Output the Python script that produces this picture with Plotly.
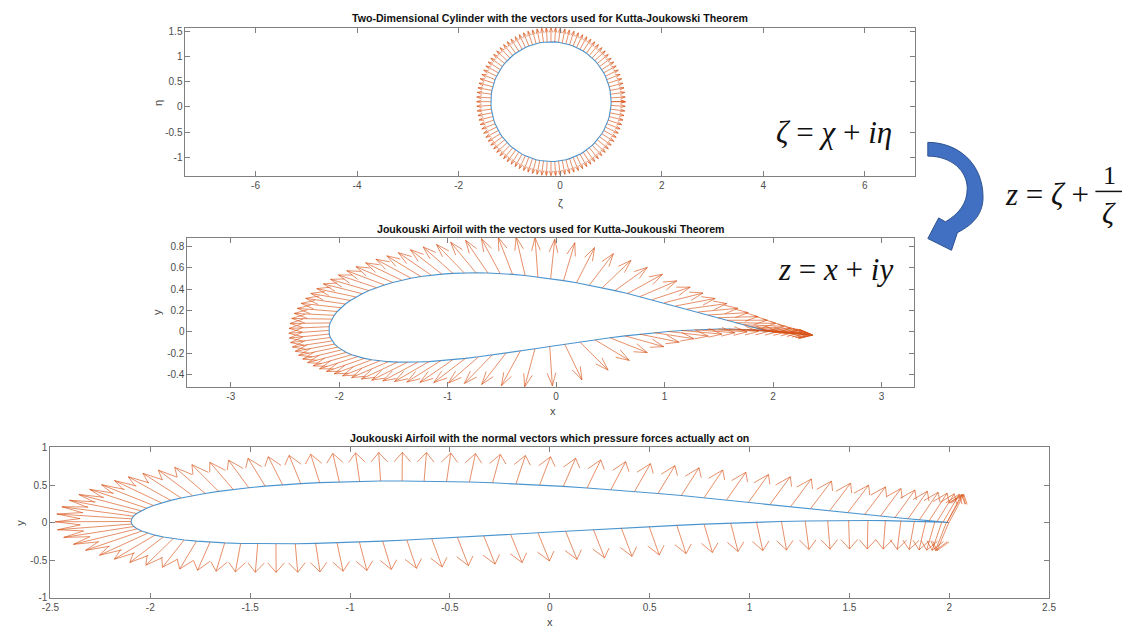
import numpy as np
import plotly.graph_objects as go

# ---------------------------------------------------------------------------
# Joukowski mapping data: cylinder in the zeta plane, airfoil in the z plane
# ---------------------------------------------------------------------------
zeta_center_x = -0.18          # cylinder centre (chi)
zeta_center_y = 0.105          # cylinder centre (eta)
n_points = 101                 # surface samples (first and last coincide)

# vector lengths as drawn (data units, after quiver scaling)
cyl_vec_len = 0.28
foil_vec_len = 0.37
normal_vec_len = 0.38

# axis ranges and ticks
cyl_xrange = [-7.38, 6.99]
cyl_yrange = [-1.36, 1.57]
cyl_xticks = [-6, -4, -2, 0, 2, 4, 6]
cyl_yticks = [-1, -0.5, 0, 0.5, 1, 1.5]

foil_xrange = [-3.4, 3.3]
foil_yrange = [-0.513, 0.885]
foil_xticks = [-3, -2, -1, 0, 1, 2, 3]
foil_yticks = [-0.4, -0.2, 0, 0.2, 0.4, 0.6, 0.8]

norm_xrange = [-2.5, 2.5]
norm_yrange = [-1, 1]
norm_xticks = [-2.5, -2, -1.5, -1, -0.5, 0, 0.5, 1, 1.5, 2, 2.5]
norm_yticks = [-1, -0.5, 0, 0.5, 1]

titles = [
    "Two-Dimensional Cylinder with the vectors used for Kutta-Joukowski Theorem",
    "Joukouski Airfoil with the vectors used for Kutta-Joukouski Theorem",
    "Joukouski Airfoil with the normal vectors which pressure forces actually act on",
]

ORANGE = "rgba(217,83,25,0.72)"
BLUE = "#4a95cf"
FONT = "Liberation Sans"
W, H = 1131, 634

# ---------------------------------------------------------------------------
# geometry
# ---------------------------------------------------------------------------
c = complex(zeta_center_x, zeta_center_y)
R = abs(1 - c)                                   # circle passes through zeta = 1
theta = np.linspace(0, 2 * np.pi, n_points)
radial = np.exp(1j * theta)                      # unit radial vectors
zeta = c + R * radial
z = zeta + 1 / zeta                              # Joukowski transform

# cylinder vectors carried into the airfoil plane through s - 1/s, normalised
tip = zeta + cyl_vec_len * radial
carried = (tip - 1 / tip) - (zeta - 1 / zeta)
carried = carried / np.abs(carried)

# outward normals of the airfoil from finite differences along the contour
dx = np.gradient(z.real)
dy = np.gradient(z.imag)
normal = (dy - 1j * dx) / np.hypot(dx, dy)


def quiver(p, vec, alpha=0.33, beta=0.33):
    """Shaft + open arrowhead segments, MATLAB quiver style."""
    xs, ys = [], []
    for (x0, y0, u, v) in zip(p.real, p.imag, vec.real, vec.imag):
        tx, ty = x0 + u, y0 + v
        xs += [x0, tx, None,
               tx - alpha * (u + beta * v), tx, tx - alpha * (u - beta * v), None]
        ys += [y0, ty, None,
               ty - alpha * (v - beta * u), ty, ty - alpha * (v + beta * u), None]
    return xs, ys


fig = go.Figure()

panels = [
    ("x", "y", zeta, radial * cyl_vec_len),
    ("x2", "y2", z, carried * foil_vec_len),
    ("x3", "y3", z, normal * normal_vec_len),
]
for xa, ya, pts, vec in panels:
    fig.add_trace(go.Scatter(x=pts.real, y=pts.imag, mode="lines",
                             line=dict(color=BLUE, width=1.1),
                             xaxis=xa, yaxis=ya, hoverinfo="skip"))
    qx, qy = quiver(pts, vec)
    fig.add_trace(go.Scatter(x=qx, y=qy, mode="lines",
                             line=dict(color=ORANGE, width=0.9),
                             xaxis=xa, yaxis=ya, hoverinfo="skip"))


def axis(domain, rng, ticks, anchor):
    return dict(domain=domain, range=rng, anchor=anchor,
                tickmode="array", tickvals=ticks,
                ticktext=[f"{t:g}" for t in ticks],
                showline=True, linecolor="#808080", linewidth=1, mirror="ticks",
                ticks="inside", ticklen=5, tickcolor="#808080",
                showgrid=False, zeroline=False,
                tickfont=dict(family=FONT, size=10, color="#4d4d4d"))


def dom_x(a, b):
    return [a / W, b / W]


def dom_y(top, bottom):
    return [1 - bottom / H, 1 - top / H]


fig.update_layout(
    width=W, height=H, margin=dict(l=0, r=0, t=0, b=0),
    paper_bgcolor="white", plot_bgcolor="white", showlegend=False,
    xaxis=axis(dom_x(179, 919), cyl_xrange, cyl_xticks, "y"),
    yaxis=axis(dom_y(22, 173), cyl_yrange, cyl_yticks, "x"),
    xaxis2=axis(dom_x(181, 918), foil_xrange, foil_xticks, "y2"),
    yaxis2=axis(dom_y(236, 388), foil_yrange, foil_yticks, "x2"),
    xaxis3=axis(dom_x(42, 1055), norm_xrange, norm_xticks, "y3"),
    yaxis3=axis(dom_y(450, 603), norm_yrange, norm_yticks, "x3"),
)


def note(text, px, py, size=10, bold=False, family=FONT, color="#222", angle=0):
    fig.add_annotation(text=f"<b>{text}</b>" if bold else text,
                       x=px / W, y=1 - py / H, xref="paper", yref="paper",
                       showarrow=False, textangle=angle,
                       font=dict(family=family, size=size, color=color),
                       xanchor="center", yanchor="middle")


# titles
note(titles[0], 549, 12, size=10.6, bold=True, color="#111")
note(titles[1], 549.5, 227, size=10.6, bold=True, color="#111")
note(titles[2], 548.5, 440, size=10.6, bold=True, color="#111")

# axis labels
note("ζ", 559, 201, size=11, color="#444")
note("η", 151, 99, size=11, color="#444", angle=-90)
note("x", 552, 413, size=11, color="#444")
note("y", 150, 312, size=11, color="#444", angle=-90)
note("x", 549, 628, size=11, color="#444")
note("y", 11, 527, size=11, color="#444", angle=-90)

# equations
SERIF = "Liberation Serif"
note("<i>ζ</i> = <i>χ</i> + <i>iη</i>", 837, 129, size=31,
     family=SERIF, color="#111")
note("<i>z</i> = <i>x</i> + <i>iy</i>", 838, 269, size=31,
     family=SERIF, color="#111")
note("<i>z</i> = <i>ζ</i> +", 1053, 192, size=31, family=SERIF, color="#111")
note("1", 1116, 173, size=26, family=SERIF, color="#111")
note("<i>ζ</i>", 1116, 210, size=30, family=SERIF, color="#111")
fig.add_shape(type="line", xref="paper", yref="paper",
              x0=1102 / W, x1=1129 / W, y0=1 - 189 / H, y1=1 - 189 / H,
              line=dict(color="#111", width=1.5))


# curved blue arrow between the two upper panels
def P(px, py):
    return f"{px / W:.5f},{1 - py / H:.5f}"


arrow_path = (
    f"M {P(932, 139)} "
    f"C {P(962, 139)} {P(988, 160)} {P(988, 195)} "
    f"C {P(988, 210)} {P(980, 222)} {P(962, 231)} "
    f"L {P(956, 249)} L {P(932, 237)} L {P(943, 216)} L {P(950, 220)} "
    f"C {P(963, 212)} {P(972, 202)} {P(972, 186)} "
    f"C {P(972, 168)} {P(956, 153)} {P(932, 153)} Z"
)
fig.add_shape(type="path", path=arrow_path, xref="paper", yref="paper",
              fillcolor="#4170c2", line=dict(color="#2d528f", width=1))

fig.write_html("out.html")
